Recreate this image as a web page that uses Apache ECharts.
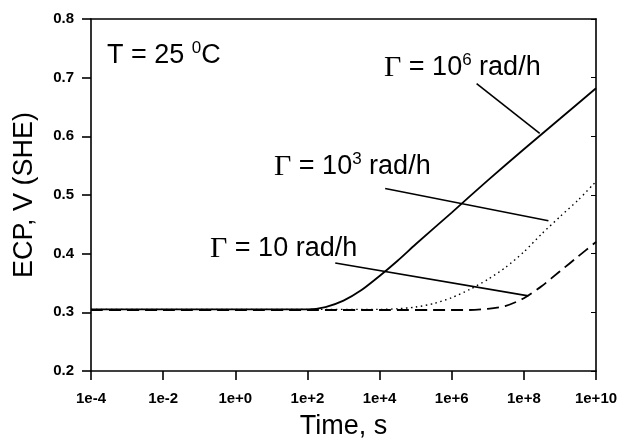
<!DOCTYPE html>
<html>
<head>
<meta charset="utf-8">
<script src="https://cdn.jsdelivr.net/npm/echarts@6/dist/echarts.min.js"></script>
<style>
  html, body { margin: 0; padding: 0; background: #fff; }
  #chart { width: 621px; height: 445px; }
</style>
</head>
<body>
<div id="chart"></div>
<script>
// 读图得到的数据（时间单位 s，电位 V）
var timeHigh = [1e-4, 1e-2, 1, 1e2, 3.16e2, 1e3, 3.16e3, 1e4, 3.16e4, 1e5, 1e6, 1e7, 1e8, 1e9, 1e10];
var ecpHigh  = [0.305, 0.305, 0.305, 0.305, 0.309, 0.320, 0.338, 0.362, 0.388, 0.416, 0.470, 0.525, 0.578, 0.630, 0.682];

var timeMid = [1e-4, 1e-2, 1, 1e2, 1e4, 3.16e4, 1e5, 3.16e5, 1e6, 3.16e6, 1e7, 3.16e7, 1e8, 3.16e8, 1e9, 3.16e9, 1e10];
var ecpMid  = [0.305, 0.305, 0.305, 0.305, 0.305, 0.306, 0.309, 0.315, 0.325, 0.339, 0.356, 0.377, 0.403, 0.434, 0.463, 0.491, 0.523];

var timeLow = [1e-4, 1e-2, 1, 1e2, 1e4, 1e6, 3.16e6, 1e7, 3.16e7, 1e8, 3.16e8, 1e9, 3.16e9, 1e10];
var ecpLow  = [0.304, 0.304, 0.304, 0.304, 0.304, 0.304, 0.304, 0.306, 0.311, 0.324, 0.345, 0.370, 0.395, 0.420];

// 引线：[起点, 终点]
var leaderHigh = [[4.9e6, 0.690], [2.75e8, 0.605]];
var leaderMid  = [[1.43e4, 0.511], [4.8e8, 0.456]];
var leaderLow  = [[5.9e2, 0.384], [1.33e8, 0.328]];

function pairs(t, v) {
    return t.map(function (x, i) { return [x, v[i]]; });
}

function expLabel(v) {
    var e = Math.round(Math.log10(v));
    return '1e' + (e >= 0 ? '+' : '-') + Math.abs(e);
}

var sans = 'Liberation Sans';
var serif = 'Liberation Serif';
var richText = {
    g: { fontFamily: serif, fontSize: 30, color: '#000' },
    t: { fontFamily: sans, fontSize: 27, color: '#000' },
    s: { fontFamily: sans, fontSize: 17, color: '#000', padding: [0, 0, 15, 0] }
};

function leader(coords) {
    return {
        type: 'line',
        data: [],
        silent: true,
        markLine: {
            symbol: 'none',
            silent: true,
            animation: false,
            label: { show: false },
            lineStyle: { color: '#000', width: 1.6, type: 'solid' },
            data: [[{ coord: coords[0] }, { coord: coords[1] }]]
        }
    };
}

var tickFont = { fontFamily: sans, fontSize: 15, fontWeight: 'bold', color: '#000' };

var myChart = echarts.init(document.getElementById('chart'));
myChart.setOption({
    animation: false,
    grid: { left: 91, right: 25, top: 19, bottom: 74 },
    xAxis: [{
        type: 'log',
        logBase: 10,
        min: 1e-4,
        max: 1e10,
        interval: 2,
        name: 'Time, s',
        nameLocation: 'middle',
        nameGap: 42,
        nameTextStyle: { fontFamily: sans, fontSize: 27, color: '#000' },
        axisLine: { lineStyle: { color: '#000', width: 1.6 } },
        axisTick: { show: true, length: 9, lineStyle: { color: '#000', width: 1.6 } },
        axisLabel: Object.assign({ formatter: expLabel, margin: 20 }, tickFont),
        splitLine: { show: false },
        minorTick: { show: false }
    }, {
        type: 'log',
        logBase: 10,
        min: 1e-4,
        max: 1e10,
        position: 'top',
        axisLine: { lineStyle: { color: '#000', width: 1.6 } },
        axisTick: { show: false },
        axisLabel: { show: false },
        splitLine: { show: false }
    }],
    yAxis: [{
        type: 'value',
        min: 0.2,
        max: 0.8,
        interval: 0.1,
        name: 'ECP, V (SHE)',
        nameLocation: 'middle',
        nameGap: 53,
        nameTextStyle: { fontFamily: sans, fontSize: 27, color: '#000' },
        axisLine: { show: true, lineStyle: { color: '#000', width: 1.6 } },
        axisTick: { show: true, length: 9, lineStyle: { color: '#000', width: 1.6 } },
        axisLabel: Object.assign({ formatter: function (v) { return v.toFixed(1); }, margin: 17 }, tickFont),
        splitLine: { show: false }
    }, {
        type: 'value',
        min: 0.2,
        max: 0.8,
        interval: 0.1,
        position: 'right',
        axisLine: { show: true, lineStyle: { color: '#000', width: 1.6 } },
        axisTick: { show: true, inside: true, length: 5, lineStyle: { color: '#000', width: 1 } },
        axisLabel: { show: false },
        splitLine: { show: false }
    }],
    series: [
        {
            name: '1e6 rad/h',
            type: 'line',
            data: pairs(timeHigh, ecpHigh),
            smooth: 0.25,
            showSymbol: false,
            lineStyle: { color: '#000', width: 1.8, type: 'solid' }
        },
        {
            name: '1e3 rad/h',
            type: 'line',
            data: pairs(timeMid, ecpMid),
            smooth: 0.25,
            showSymbol: false,
            lineStyle: { color: '#000', width: 1.4, type: [1.5, 3.5] }
        },
        {
            name: '10 rad/h',
            type: 'line',
            data: pairs(timeLow, ecpLow),
            smooth: 0.25,
            showSymbol: false,
            lineStyle: { color: '#000', width: 1.8, type: [12, 6] }
        },
        leader(leaderHigh),
        leader(leaderMid),
        leader(leaderLow)
    ],
    graphic: [
        {
            type: 'text', left: 107, top: 40,
            style: { text: '{t|T = 25 }{s|0}{t|C}', rich: richText }
        },
        {
            type: 'text', left: 384, top: 52,
            style: { text: '{g|Γ}{t| = 10}{s|6}{t| rad/h}', rich: richText }
        },
        {
            type: 'text', left: 274, top: 151,
            style: { text: '{g|Γ}{t| = 10}{s|3}{t| rad/h}', rich: richText }
        },
        {
            type: 'text', left: 210, top: 234,
            style: { text: '{g|Γ}{t| = 10 rad/h}', rich: richText }
        }
    ]
});
</script>
</body>
</html>
